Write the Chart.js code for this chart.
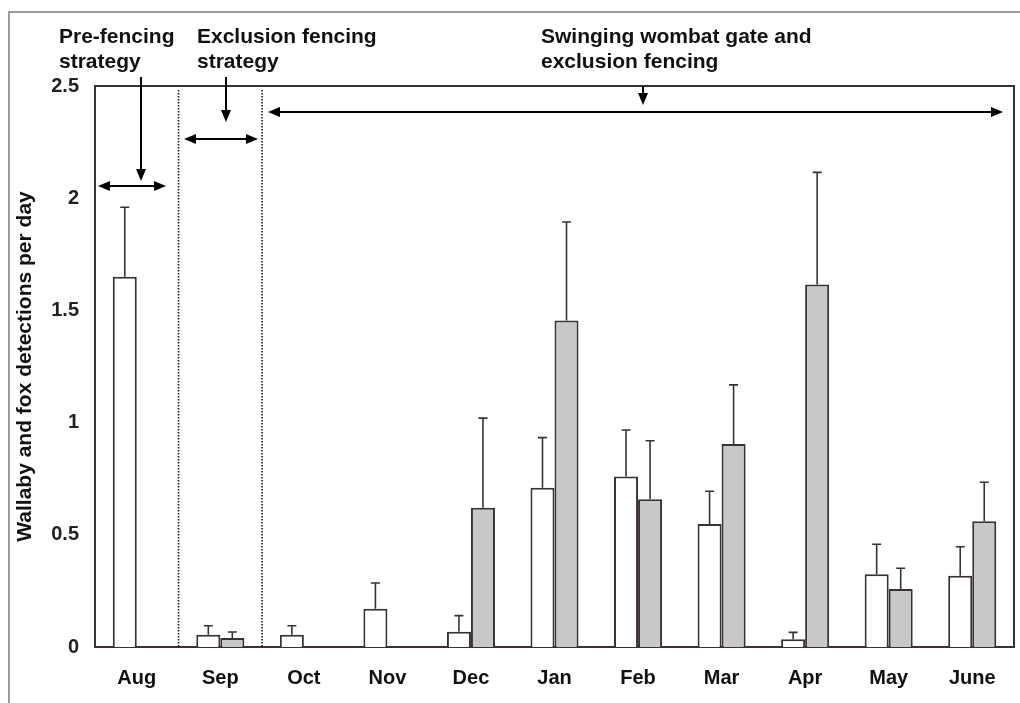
<!DOCTYPE html>
<html>
<head>
<meta charset="utf-8">
<script src="https://cdn.jsdelivr.net/npm/chart.js@4.4.1/dist/chart.umd.min.js"></script>
<style>
  html, body { margin: 0; padding: 0; background: #ffffff; }
  #wrap { width: 1020px; height: 703px; position: relative; }
</style>
</head>
<body>
<div id="wrap"><canvas id="c" width="1020" height="703"></canvas></div>
<script>
// ---- data ----
const months = ["Aug", "Sep", "Oct", "Nov", "Dec", "Jan", "Feb", "Mar", "Apr", "May", "June"];
const wallabyMeans = [1.65, 0.055, 0.055, 0.17, 0.068, 0.71, 0.76, 0.548, 0.034, 0.324, 0.318];
const wallabyUpper = [1.96, 0.095, 0.095, 0.285, 0.14, 0.933, 0.967, 0.694, 0.065, 0.458, 0.447];
const foxMeans = [null, 0.04, null, null, 0.62, 1.455, 0.658, 0.905, 1.615, 0.258, 0.56];
const foxUpper = [null, 0.067, null, null, 1.02, 1.894, 0.919, 1.168, 2.115, 0.351, 0.734];
const yTicks = [0, 0.5, 1, 1.5, 2, 2.5];
const yTitle = "Wallaby and fox detections per day";
const phaseLabels = [
  ["Pre-fencing", "strategy"],
  ["Exclusion fencing", "strategy"],
  ["Swinging wombat gate and", "exclusion fencing"]
];

const FONT = "'Liberation Sans', Arial, Helvetica, sans-serif";
const INK = "#3a3232";

const errorBars = {
  id: "errorBars",
  afterDatasetsDraw(chart) {
    const ctx = chart.ctx;
    const ys = chart.scales.y;
    const uppers = [wallabyUpper, foxUpper];
    ctx.save();
    ctx.strokeStyle = INK;
    ctx.lineWidth = 1.6;
    chart.data.datasets.forEach((ds, di) => {
      const meta = chart.getDatasetMeta(di);
      meta.data.forEach((el, i) => {
        const u = uppers[di][i];
        if (u == null || ds.data[i] == null) return;
        const yt = ys.getPixelForValue(u);
        ctx.beginPath();
        ctx.moveTo(el.x, el.y);
        ctx.lineTo(el.x, yt);
        ctx.moveTo(el.x - 4.5, yt);
        ctx.lineTo(el.x + 4.5, yt);
        ctx.stroke();
      });
    });
    ctx.restore();
  }
};

function arrowHead(ctx, x, y, dir) {
  const L = 12, W = 5;
  ctx.beginPath();
  if (dir === 'r') { ctx.moveTo(x, y); ctx.lineTo(x - L, y - W); ctx.lineTo(x - L, y + W); }
  if (dir === 'l') { ctx.moveTo(x, y); ctx.lineTo(x + L, y - W); ctx.lineTo(x + L, y + W); }
  if (dir === 'd') { ctx.moveTo(x, y); ctx.lineTo(x - W, y - L); ctx.lineTo(x + W, y - L); }
  ctx.closePath();
  ctx.fill();
}
function hArrow(ctx, x1, x2, y) {
  ctx.beginPath(); ctx.moveTo(x1 + 6, y); ctx.lineTo(x2 - 6, y); ctx.stroke();
  arrowHead(ctx, x1, y, 'l'); arrowHead(ctx, x2, y, 'r');
}
function dArrow(ctx, x, y1, y2) {
  ctx.beginPath(); ctx.moveTo(x, y1); ctx.lineTo(x, y2 - 6); ctx.stroke();
  arrowHead(ctx, x, y2, 'd');
}

const decorations = {
  id: "decorations",
  beforeDraw(chart) {
    const ctx = chart.ctx;
    ctx.save();
    ctx.fillStyle = "#ffffff";
    ctx.fillRect(0, 0, chart.width, chart.height);
    ctx.strokeStyle = "#a09a9a";
    ctx.lineWidth = 2;
    ctx.beginPath();
    ctx.moveTo(9, 703); ctx.lineTo(9, 12); ctx.lineTo(1020, 12);
    ctx.stroke();
    ctx.restore();
  },
  afterDraw(chart) {
    const ctx = chart.ctx;
    const a = chart.chartArea;
    const xs = chart.scales.x;
    ctx.save();
    ctx.strokeStyle = INK;
    ctx.lineWidth = 2;
    ctx.beginPath();
    ctx.moveTo(a.left, a.top); ctx.lineTo(a.right, a.top); ctx.lineTo(a.right, a.bottom);
    ctx.stroke();
    const step = xs.getPixelForValue(1) - xs.getPixelForValue(0);
    const b1 = xs.getPixelForValue(0) + step / 2;
    const b2 = xs.getPixelForValue(1) + step / 2;
    ctx.strokeStyle = "#111";
    ctx.lineWidth = 1.5;
    ctx.setLineDash([1.5, 1.5]);
    [b1, b2].forEach(b => {
      ctx.beginPath(); ctx.moveTo(b, a.top + 4); ctx.lineTo(b, a.bottom); ctx.stroke();
    });
    ctx.setLineDash([]);
    ctx.strokeStyle = "#000";
    ctx.fillStyle = "#000";
    ctx.lineWidth = 2;
    hArrow(ctx, 98, 166, 186);
    dArrow(ctx, 141, 77, 181);
    hArrow(ctx, 184, 258, 139);
    dArrow(ctx, 226, 77, 122);
    hArrow(ctx, 268, 1003, 112);
    dArrow(ctx, 643, 86, 105);
    ctx.font = "bold 21px " + FONT;
    ctx.fillStyle = "#111";
    ctx.textBaseline = "alphabetic";
    ctx.textAlign = "left";
    const xsText = [59, 197, 541];
    phaseLabels.forEach((lines, i) => {
      ctx.fillText(lines[0], xsText[i], 43);
      ctx.fillText(lines[1], xsText[i], 68);
    });
    ctx.restore();
  }
};

new Chart(document.getElementById("c"), {
  type: "bar",
  data: {
    labels: months,
    datasets: [
      {
        label: "Wallaby",
        data: wallabyMeans,
        backgroundColor: "#ffffff",
        borderColor: INK,
        borderWidth: 2,
        borderSkipped: "bottom"
      },
      {
        label: "Fox",
        data: foxMeans,
        backgroundColor: "#c8c8c8",
        borderColor: INK,
        borderWidth: 2,
        borderSkipped: "bottom"
      }
    ]
  },
  options: {
    responsive: false,
    animation: false,
    devicePixelRatio: 1,
    layout: { padding: { top: 86, right: 6, left: 0, bottom: 0 } },
    datasets: { bar: { categoryPercentage: 0.575, barPercentage: 1.0 } },
    plugins: { legend: { display: false }, tooltip: { enabled: false } },
    scales: {
      x: {
        grid: { display: false, drawTicks: false },
        border: { display: true, color: INK, width: 2 },
        ticks: { color: "#111", padding: 19, font: { family: FONT, size: 20, weight: "bold" } },
        afterFit(s) { s.height = 56; }
      },
      y: {
        min: 0, max: 2.5,
        afterBuildTicks(s) { s.ticks = yTicks.map(v => ({ value: v })); },
        grid: { display: false, drawTicks: false },
        border: { display: true, color: INK, width: 2 },
        ticks: {
          color: "#222", padding: 16,
          font: { family: FONT, size: 20, weight: "bold" },
          callback: v => String(v)
        },
        title: {
          display: true, text: yTitle, color: "#111",
          font: { family: FONT, size: 21, weight: "bold" },
          padding: { top: 13, bottom: 0 }
        },
        afterFit(s) { s.width = 95; }
      }
    }
  },
  plugins: [decorations, errorBars]
});
</script>
</body>
</html>
